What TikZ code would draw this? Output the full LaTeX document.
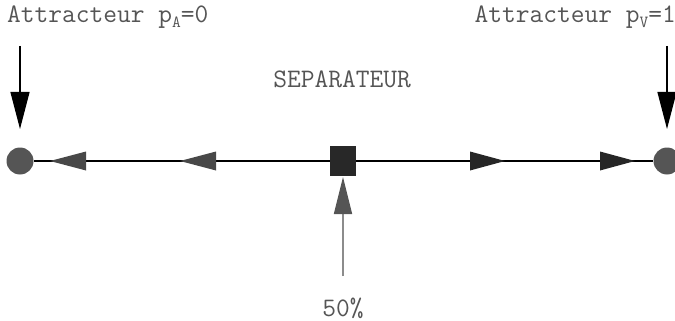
\documentclass[tikz,border=0pt]{standalone}
\usepackage{fontspec}
\usetikzlibrary{arrows.meta}
\definecolor{txtgray}{RGB}{85,85,85}
\definecolor{dotgray}{RGB}{85,85,85}
\definecolor{headL}{RGB}{72,72,72}
\definecolor{headR}{RGB}{38,38,38}
\definecolor{sqcol}{RGB}{40,40,40}
\definecolor{stemgray}{RGB}{140,140,140}
\newcommand{\subsc}[1]{\raisebox{-5pt}{\fontsize{17}{19}\selectfont #1}}
\begin{document}
\begin{tikzpicture}[x=1pt,y=-1pt,
  lbl/.style={font=\ttfamily\fontsize{26.7}{30}\selectfont,text=txtgray,inner sep=0pt},
  attr/.style={circle,fill=dotgray,minimum size=27pt,inner sep=0pt},
  sepbox/.style={rectangle,fill=sqcol,minimum width=26pt,minimum height=30pt,inner sep=0pt},
  flow/.style={draw=black,line width=1.1pt},
  drop/.style={draw=black,line width=1.2pt,-{Triangle[length=37pt,width=19pt]}},
  rise/.style={draw=stemgray,line width=1.4pt,-{Triangle[length=37pt,width=18pt,fill=dotgray,color=dotgray]}}
]
\useasboundingbox (0,0) rectangle (675,321);
\node[attr] (L) at (20,161) {};
\node[attr] (R) at (667,161) {};
\node[sepbox] (S) at (343,161) {};
\draw[flow] (S) -- (L);
\draw[flow] (S) -- (R);
% direction triangles on the line
\fill[headL] (50,161) -- (86,151.5) -- (86,170.5) -- cycle;
\fill[headL] (180,161) -- (216,151.5) -- (216,170.5) -- cycle;
\fill[headR] (505,161) -- (470,151.5) -- (470,170.5) -- cycle;
\fill[headR] (635,161) -- (600,151.5) -- (600,170.5) -- cycle;
% labels
\node[lbl,anchor=base west] (tA) at (7,23) {Attracteur p\subsc{A}=0};
\node[lbl,anchor=base east] (tV) at (676,23) {Attracteur p\subsc{V}=1};
\node[lbl,anchor=base] (tS) at (342,88) {SEPARATEUR};
\node[lbl,anchor=base] (tP) at (343,316) {50\%};
% arrows
\coordinate (la) at (20,46);
\coordinate (lb) at (20,129);
\coordinate (ra) at (667,46);
\coordinate (rb) at (667,129);
\coordinate (ua) at (343,276);
\coordinate (ub) at (343,177);
\draw[drop] (la) -- (lb);
\draw[drop] (ra) -- (rb);
\draw[rise] (ua) -- (ub);
\end{tikzpicture}
\end{document}
